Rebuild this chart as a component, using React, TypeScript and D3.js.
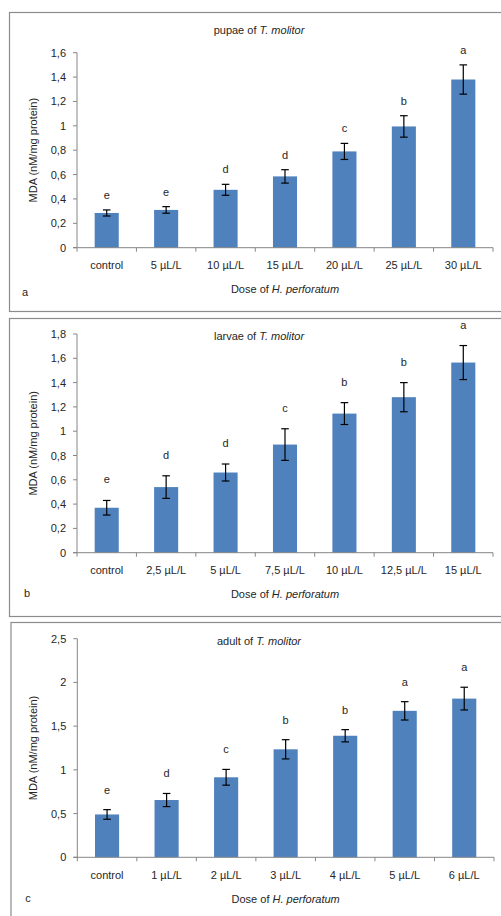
import React from "react";
import * as d3 from "d3";

// Panel a: pupae
const catsA = ["control", "5 µL/L", "10 µL/L", "15 µL/L", "20 µL/L", "25 µL/L", "30 µL/L"];
const valsA = [0.285, 0.31, 0.475, 0.585, 0.79, 0.995, 1.38];
const errsA = [0.025, 0.027, 0.045, 0.055, 0.066, 0.088, 0.12];
const lettersA = ["e", "e", "d", "d", "c", "b", "a"];
const ticksA = [0, 0.2, 0.4, 0.6, 0.8, 1, 1.2, 1.4, 1.6];

// Panel b: larvae
const catsB = ["control", "2,5 µL/L", "5 µL/L", "7,5 µL/L", "10 µL/L", "12,5 µL/L", "15 µL/L"];
const valsB = [0.37, 0.54, 0.66, 0.89, 1.145, 1.28, 1.565];
const errsB = [0.06, 0.093, 0.07, 0.13, 0.09, 0.12, 0.14];
const lettersB = ["e", "d", "d", "c", "b", "b", "a"];
const ticksB = [0, 0.2, 0.4, 0.6, 0.8, 1, 1.2, 1.4, 1.6, 1.8];

// Panel c: adult
const catsC = ["control", "1 µL/L", "2 µL/L", "3 µL/L", "4 µL/L", "5 µL/L", "6 µL/L"];
const valsC = [0.49, 0.655, 0.915, 1.235, 1.39, 1.675, 1.815];
const errsC = [0.055, 0.075, 0.09, 0.11, 0.07, 0.105, 0.13];
const lettersC = ["e", "d", "c", "b", "b", "a", "a"];
const ticksC = [0, 0.5, 1, 1.5, 2, 2.5];

const FONT = "'Liberation Sans', Arial, sans-serif";
const BAR = "#4F81BD";
const AXIS = "#868686";
const TEXT = "#262626";

const fmt = (v: number) => String(v).replace(".", ",");

type PanelProps = {
  cats: string[];
  vals: number[];
  errs: number[];
  letters: string[];
  ticks: number[];
  stage: string;
  tag: string;
  frame: { x: number; y: number; w: number; h: number };
  plot: { left: number; right: number; top: number; bottom: number };
  titleY: number;
  xLabY: number;
  xTitleY: number;
  tagPos: { x: number; y: number };
  letterOff: number;
};

function Panel(p: PanelProps) {
  const x = d3.scaleBand<string>().domain(p.cats).range([p.plot.left, p.plot.right]).padding(0);
  const y = d3
    .scaleLinear()
    .domain([0, p.ticks[p.ticks.length - 1]])
    .range([p.plot.bottom, p.plot.top]);
  const bw = x.bandwidth() * 0.405;
  const bounds = p.cats.map((c) => x(c)!).concat([p.plot.right]);
  const midY = (p.plot.top + p.plot.bottom) / 2;
  const midX = (p.plot.left + p.plot.right) / 2;
  return (
    <g>
      <rect
        x={p.frame.x}
        y={p.frame.y}
        width={p.frame.w}
        height={p.frame.h}
        fill="#fff"
        stroke="#8c8c8c"
        strokeWidth={1.2}
      />
      {/* title */}
      <text x={259} y={p.titleY} textAnchor="middle" fontSize={11} fill={TEXT} fontFamily={FONT}>
        {p.stage} of <tspan fontStyle="italic">T. molitor</tspan>
      </text>
      {/* bars */}
      {p.cats.map((c, i) => {
        const cx = x(c)! + x.bandwidth() / 2;
        return (
          <rect
            key={c}
            x={cx - bw / 2}
            y={y(p.vals[i])}
            width={bw}
            height={y(0) - y(p.vals[i])}
            fill={BAR}
          />
        );
      })}
      {/* error bars */}
      {p.cats.map((c, i) => {
        const cx = x(c)! + x.bandwidth() / 2;
        const t = y(p.vals[i] + p.errs[i]);
        const b = y(p.vals[i] - p.errs[i]);
        return (
          <g key={"e" + c} stroke="#000" strokeWidth={1.2}>
            <line x1={cx} x2={cx} y1={t} y2={b} />
            <line x1={cx - 3.8} x2={cx + 3.8} y1={t} y2={t} />
            <line x1={cx - 3.8} x2={cx + 3.8} y1={b} y2={b} />
          </g>
        );
      })}
      {/* letters */}
      {p.cats.map((c, i) => {
        const cx = x(c)! + x.bandwidth() / 2;
        const t = y(p.vals[i] + p.errs[i]);
        return (
          <text
            key={"l" + c}
            x={cx}
            y={t - p.letterOff + 4}
            textAnchor="middle"
            fontSize={11}
            fill={TEXT}
            fontFamily={FONT}
          >
            {p.letters[i]}
          </text>
        );
      })}
      {/* y axis */}
      <line x1={p.plot.left} x2={p.plot.left} y1={p.plot.top} y2={p.plot.bottom} stroke={AXIS} strokeWidth={1} />
      {p.ticks.map((t) => (
        <g key={"t" + t}>
          <line x1={p.plot.left - 4} x2={p.plot.left} y1={y(t)} y2={y(t)} stroke={AXIS} strokeWidth={1} />
          <text
            x={p.plot.left - 11}
            y={y(t) + 4}
            textAnchor="end"
            fontSize={11}
            fill={TEXT}
            fontFamily={FONT}
          >
            {fmt(t)}
          </text>
        </g>
      ))}
      {/* x axis */}
      <line x1={p.plot.left - 4} x2={p.plot.right} y1={p.plot.bottom} y2={p.plot.bottom} stroke={AXIS} strokeWidth={1} />
      {bounds.map((bx, i) => (
        <line key={"xb" + i} x1={bx} x2={bx} y1={p.plot.bottom} y2={p.plot.bottom + 4} stroke={AXIS} strokeWidth={1} />
      ))}
      {p.cats.map((c) => (
        <text
          key={"x" + c}
          x={x(c)! + x.bandwidth() / 2}
          y={p.xLabY}
          textAnchor="middle"
          fontSize={11}
          fill={TEXT}
          fontFamily={FONT}
        >
          {c}
        </text>
      ))}
      <text x={midX} y={p.xTitleY} textAnchor="middle" fontSize={11} fill={TEXT} fontFamily={FONT}>
        Dose of <tspan fontStyle="italic">H. perforatum</tspan>
      </text>
      <text
        transform={`translate(37,${midY}) rotate(-90)`}
        textAnchor="middle"
        fontSize={11}
        fill={TEXT}
        fontFamily={FONT}
      >
        MDA (nM/mg protein)
      </text>
      <text x={p.tagPos.x} y={p.tagPos.y} textAnchor="middle" fontSize={11} fill={TEXT} fontFamily={FONT}>
        {p.tag}
      </text>
    </g>
  );
}

export default function App() {
  return (
    <svg
      width={501}
      height={916}
      style={{ position: "absolute", left: 0, top: 0, background: "#fff" }}
    >
      <rect width={501} height={916} fill="#fff" />
      <Panel
        cats={catsA}
        vals={valsA}
        errs={errsA}
        letters={lettersA}
        ticks={ticksA}
        stage="pupae"
        tag="a"
        frame={{ x: 9.5, y: 12.5, w: 500, h: 299 }}
        plot={{ left: 77, right: 493, top: 52.7, bottom: 247.7 }}
        titleY={34}
        xLabY={269}
        xTitleY={292.5}
        tagPos={{ x: 25, y: 296 }}
        letterOff={15}
      />
      <Panel
        cats={catsB}
        vals={valsB}
        errs={errsB}
        letters={lettersB}
        ticks={ticksB}
        stage="larvae"
        tag="b"
        frame={{ x: 9.5, y: 318.5, w: 500, h: 298 }}
        plot={{ left: 77, right: 493, top: 334, bottom: 552.7 }}
        titleY={340}
        xLabY={574}
        xTitleY={598}
        tagPos={{ x: 27, y: 596.5 }}
        letterOff={21}
      />
      <Panel
        cats={catsC}
        vals={valsC}
        errs={errsC}
        letters={lettersC}
        ticks={ticksC}
        stage="adult"
        tag="c"
        frame={{ x: 11, y: 622.5, w: 500, h: 310 }}
        plot={{ left: 77.3, right: 494, top: 638.7, bottom: 857.3 }}
        titleY={644.7}
        xLabY={879}
        xTitleY={902.7}
        tagPos={{ x: 28, y: 901.5 }}
        letterOff={20}
      />
    </svg>
  );
}
